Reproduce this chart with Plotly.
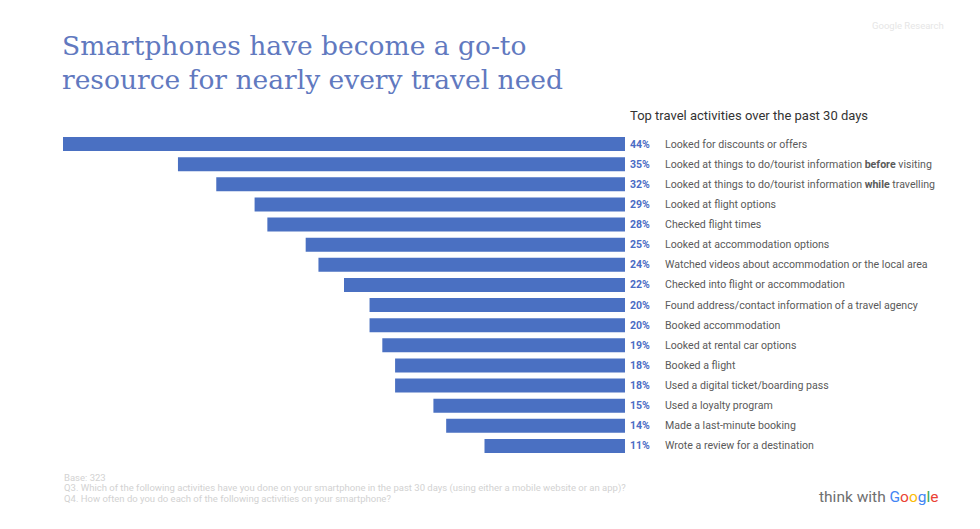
import plotly.graph_objects as go

# Share of smartphone users doing each travel activity in the past 30 days
activities = [
    "Looked for discounts or offers",
    "Looked at things to do/tourist information <b>before</b> visiting",
    "Looked at things to do/tourist information <b>while</b> travelling",
    "Looked at flight options",
    "Checked flight times",
    "Looked at accommodation options",
    "Watched videos about accommodation or the local area",
    "Checked into flight or accommodation",
    "Found address/contact information of a travel agency",
    "Booked accommodation",
    "Looked at rental car options",
    "Booked a flight",
    "Used a digital ticket/boarding pass",
    "Used a loyalty program",
    "Made a last-minute booking",
    "Wrote a review for a destination",
]
shares = [44, 35, 32, 29, 28, 25, 24, 22, 20, 20, 19, 18, 18, 15, 14, 11]
pct_labels = [f"{v}%" for v in shares]

BAR = "#4a70c2"
W, H = 980, 529
L, R, T, B = 63, 625, 134, 456  # plot area edges in pixels


def px(x):
    return (x - L) / (R - L)


def py(y):
    return 1 - (y - T) / (B - T)


fig = go.Figure(
    go.Bar(
        x=shares,
        y=list(range(len(shares))),
        orientation="h",
        marker=dict(color=BAR, line=dict(width=0)),
        width=0.7,
        hoverinfo="skip",
    )
)

annotations = []
for i, (p, a) in enumerate(zip(pct_labels, activities)):
    annotations.append(dict(
        x=0, y=i, xref="x", yref="y", text=f"<b>{p}</b>", showarrow=False,
        xanchor="left", yanchor="middle", xshift=3,
        font=dict(family="Roboto", size=10.5, color="#4a6cc4"),
    ))
    annotations.append(dict(
        x=0, y=i, xref="x", yref="y", text=a, showarrow=False,
        xanchor="left", yanchor="middle", xshift=38,
        font=dict(family="Roboto", size=10.6, color="#5a5a5a"),
    ))

annotations.append(dict(
    x=px(628), y=py(115), xref="paper", yref="paper",
    text="Top travel activities over the past 30 days", showarrow=False,
    xanchor="left", yanchor="middle",
    font=dict(family="Roboto", size=13, color="#333333"),
))

# Footnotes
notes = [
    "Base: 323",
    "Q3. Which of the following activities have you done on your smartphone in the past 30 days (using either a mobile website or an app)?",
    "Q4. How often do you do each of the following activities on your smartphone?",
]
for k, t in enumerate(notes):
    annotations.append(dict(
        x=px(62), y=py(477 + 10.5 * k), xref="paper", yref="paper",
        text=t, showarrow=False, xanchor="left", yanchor="middle",
        font=dict(family="Roboto", size=9.5, color="#d2d2d2"),
    ))

annotations.append(dict(
    x=px(946), y=py(25), xref="paper", yref="paper",
    text="Google Research", showarrow=False, xanchor="right", yanchor="middle",
    font=dict(family="Roboto", size=9.5, color="#e6e6e6"),
))

google = "".join(
    f"<span style='color:{c}'>{ch}</span>"
    for ch, c in zip("Google", ["#4285F4", "#EA4335", "#FBBC05", "#4285F4", "#34A853", "#EA4335"])
)
annotations.append(dict(
    x=px(817), y=py(497), xref="paper", yref="paper",
    text=f"<span style='color:#6f6f6f'>think with </span>{google}",
    showarrow=False, xanchor="left", yanchor="middle",
    font=dict(family="Roboto", size=15.5),
))

fig.update_layout(
    width=W, height=H,
    margin=dict(l=L, r=W - R, t=T, b=H - B, pad=0),
    paper_bgcolor="white", plot_bgcolor="white",
    showlegend=False,
    title=dict(
        text="Smartphones have become a go-to<br>resource for nearly every travel need",
        x=62 / W, xanchor="left", y=1 - 55 / H, yanchor="middle",
        font=dict(family="DejaVu Serif", size=26.5, color="#6179bf"),
    ),
    xaxis=dict(range=[44, 0], visible=False, fixedrange=True),
    yaxis=dict(range=[15.5, -0.5], visible=False, fixedrange=True),
    annotations=annotations,
    bargap=0.3,
)

fig.write_html("out.html")
